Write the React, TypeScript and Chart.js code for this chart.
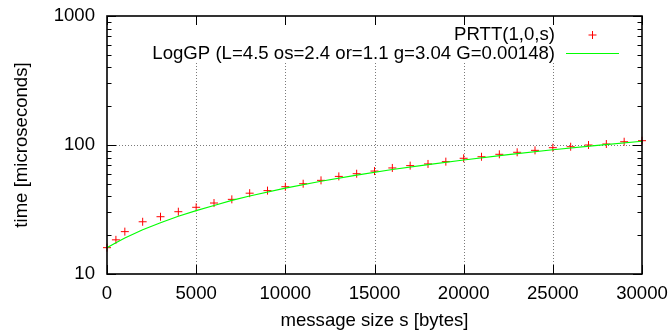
import React, { useEffect, useRef } from 'react';
import { Chart, registerables } from 'chart.js';

Chart.register(...registerables);

// ---- data ----
const msgSizes = [0, 500, 1000, 2000, 3000, 4000, 5000, 6000, 7000, 8000, 9000, 10000, 11000, 12000, 13000, 14000, 15000, 16000, 17000, 18000, 19000, 20000, 21000, 22000, 23000, 24000, 25000, 26000, 27000, 28000, 29000, 30000];
const prttTimes = [16.0, 18.4, 21.3, 25.4, 27.8, 30.4, 32.9, 35.5, 37.9, 42.3, 44.3, 47.5, 50.1, 53.2, 57.1, 59.9, 62.8, 66.4, 69.2, 71.3, 74.3, 78.9, 81.1, 84.7, 87.8, 90.9, 95.3, 97.0, 100, 101.8, 106, 108];

const modelSizes = [0, 500, 1000, 2000, 3000, 4000, 5000, 6000, 7000, 8000, 10000, 12000, 14000, 16000, 18000, 20000, 22500, 25000, 27500, 30000];
const modelTimes = [16, 17.5, 19, 22, 25, 28, 31, 34, 37.2, 40.2, 46.3, 52.4, 58.4, 64.5, 70.5, 76.6, 84.2, 91.8, 99.4, 107];

const xTickValues = [0, 5000, 10000, 15000, 20000, 25000, 30000];
const xGridValues = [5000, 10000, 15000, 20000, 25000];
const yMajorTicks = [10, 100, 1000];
const yMinorTicks = [20, 30, 40, 50, 60, 70, 80, 90, 200, 300, 400, 500, 600, 700, 800, 900];
const yGridValues = [100];

const legendLabels = ['PRTT(1,0,s)', 'LogGP (L=4.5 os=2.4 or=1.1 g=3.04 G=0.00148)'];
const xTitle = 'message size s [bytes]';
const yTitle = 'time [microseconds]';

const FONT = "'Liberation Sans', Arial, Helvetica, sans-serif";
const FS = 18.6;
const RED = '#ff0000';
const GREEN = '#00ff00';

// legend box geometry (pixels)
const KEY = { textRight: 555, row1: 35, row2: 53.5, sampleL: 566, sampleR: 619, boxLeft: 147, boxRight: 626, boxBottom: 63 };

const framePlugin = {
  id: 'gnuplotFrame',
  beforeDatasetsDraw(chart: any) {
    const { ctx, chartArea: a, scales } = chart;
    const x = scales.x;
    const y = scales.y;
    ctx.save();
    ctx.strokeStyle = '#7a7a7a';
    ctx.lineWidth = 1;
    ctx.setLineDash([1, 2]);
    xGridValues.forEach((v) => {
      const px = Math.round(x.getPixelForValue(v)) + 0.5;
      const topY = px >= KEY.boxLeft && px <= KEY.boxRight ? KEY.boxBottom : a.top;
      ctx.beginPath();
      ctx.moveTo(px, a.bottom);
      ctx.lineTo(px, topY);
      ctx.stroke();
    });
    yGridValues.forEach((v) => {
      const py = Math.round(y.getPixelForValue(v)) + 0.5;
      ctx.beginPath();
      ctx.moveTo(a.left, py);
      ctx.lineTo(a.right, py);
      ctx.stroke();
    });
    ctx.restore();
  },
  afterDatasetsDraw(chart: any) {
    const { ctx, chartArea: a, scales } = chart;
    const x = scales.x;
    const y = scales.y;
    ctx.save();
    ctx.strokeStyle = '#000';
    ctx.lineWidth = 1;
    const major = 9;
    const minor = 4.5;
    xTickValues.forEach((v) => {
      const px = Math.round(x.getPixelForValue(v)) + 0.5;
      ctx.beginPath();
      ctx.moveTo(px, a.bottom);
      ctx.lineTo(px, a.bottom - major);
      ctx.moveTo(px, a.top);
      ctx.lineTo(px, a.top + major);
      ctx.stroke();
    });
    const yTick = (v: number, len: number) => {
      const py = Math.round(y.getPixelForValue(v)) + 0.5;
      ctx.beginPath();
      ctx.moveTo(a.left, py);
      ctx.lineTo(a.left + len, py);
      ctx.moveTo(a.right, py);
      ctx.lineTo(a.right - len, py);
      ctx.stroke();
    };
    yMajorTicks.forEach((v) => yTick(v, major));
    yMinorTicks.forEach((v) => yTick(v, minor));
    ctx.lineWidth = 1.6;
    ctx.strokeRect(a.left, a.top, a.right - a.left, a.bottom - a.top);
    ctx.restore();
  },
  afterDraw(chart: any) {
    const { ctx } = chart;
    ctx.save();
    ctx.font = `${FS}px ${FONT}`;
    ctx.fillStyle = '#000';
    ctx.textAlign = 'right';
    ctx.textBaseline = 'middle';
    ctx.fillText(legendLabels[0], KEY.textRight, KEY.row1);
    ctx.fillText(legendLabels[1], KEY.textRight, KEY.row2);
    const cx = (KEY.sampleL + KEY.sampleR) / 2;
    ctx.strokeStyle = RED;
    ctx.lineWidth = 1;
    ctx.beginPath();
    ctx.moveTo(cx - 4, KEY.row1);
    ctx.lineTo(cx + 4, KEY.row1);
    ctx.moveTo(cx, KEY.row1 - 4);
    ctx.lineTo(cx, KEY.row1 + 4);
    ctx.stroke();
    ctx.strokeStyle = GREEN;
    ctx.lineWidth = 1;
    ctx.beginPath();
    ctx.moveTo(KEY.sampleL, KEY.row2);
    ctx.lineTo(KEY.sampleR, KEY.row2);
    ctx.stroke();
    ctx.restore();
  },
};

export default function App() {
  const ref = useRef<HTMLCanvasElement | null>(null);

  useEffect(() => {
    if (!ref.current) return;
    const chart = new Chart(ref.current, {
      type: 'line',
      data: {
        datasets: [
          {
            label: legendLabels[1],
            data: modelSizes.map((s, i) => ({ x: s, y: modelTimes[i] })),
            borderColor: GREEN,
            borderWidth: 1.1,
            pointRadius: 0,
            fill: false,
            tension: 0,
          },
          {
            label: legendLabels[0],
            data: msgSizes.map((s, i) => ({ x: s, y: prttTimes[i] })),
            showLine: false,
            pointStyle: 'cross',
            pointRadius: 4,
            pointBorderWidth: 1,
            borderColor: RED,
            backgroundColor: RED,
            clip: false,
          } as any,
        ],
      },
      options: {
        animation: false,
        responsive: true,
        maintainAspectRatio: false,
        layout: { padding: { left: 0, right: 30, top: 16, bottom: 0 } },
        plugins: { legend: { display: false }, tooltip: { enabled: false } },
        scales: {
          x: {
            type: 'linear',
            min: 0,
            max: 30000,
            afterBuildTicks: (scale: any) => {
              scale.ticks = xTickValues.map((v) => ({ value: v }));
            },
            afterFit: (scale: any) => {
              scale.height = 60;
              scale.paddingLeft = 0;
              scale.paddingRight = 0;
            },
            grid: { display: false, drawTicks: false },
            border: { display: false },
            ticks: {
              autoSkip: false,
              maxRotation: 0,
              padding: 9,
              color: '#000',
              font: { family: FONT, size: FS },
              callback: (v: any) => String(v),
            },
            title: {
              display: true,
              text: xTitle,
              color: '#000',
              font: { family: FONT, size: FS },
              padding: { top: 0, bottom: 2 },
            },
          },
          y: {
            type: 'logarithmic',
            min: 10,
            max: 1000,
            afterBuildTicks: (scale: any) => {
              scale.ticks = yMajorTicks.map((v) => ({ value: v }));
            },
            afterFit: (scale: any) => {
              scale.width = 107;
              scale.paddingTop = 0;
              scale.paddingBottom = 0;
            },
            grid: { display: false, drawTicks: false },
            border: { display: false },
            ticks: {
              autoSkip: false,
              padding: 12,
              color: '#000',
              font: { family: FONT, size: FS },
              callback: (v: any) => String(v),
            },
            title: {
              display: true,
              text: yTitle,
              color: '#000',
              font: { family: FONT, size: FS },
              padding: { top: 11, bottom: 0 },
            },
          },
        },
      },
      plugins: [framePlugin],
    } as any);
    return () => chart.destroy();
  }, []);

  return (
    <div style={{ position: 'absolute', left: 0, top: 0, width: 672, height: 334, background: '#fff' }}>
      <canvas ref={ref} />
    </div>
  );
}
